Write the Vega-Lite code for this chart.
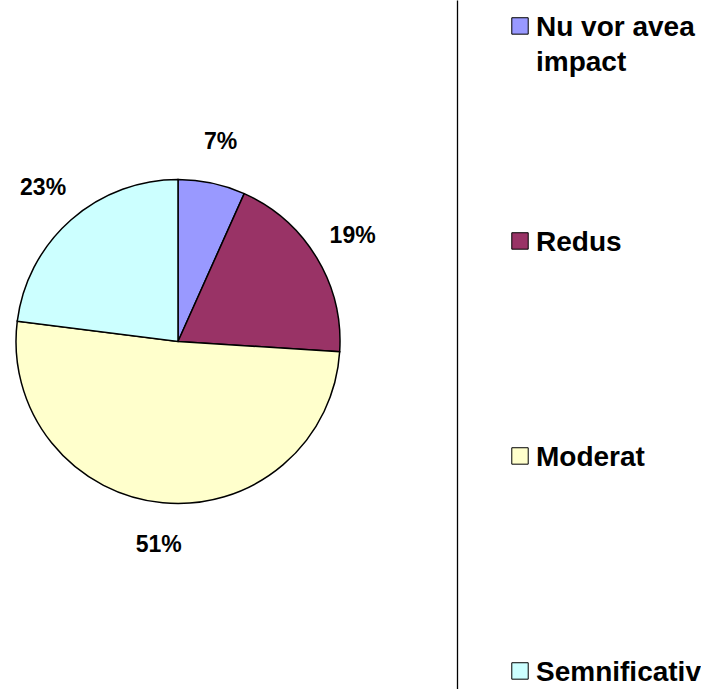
{
  "$schema": "https://vega.github.io/schema/vega-lite/v6.json",
  "padding": 0,
  "autosize": {"type": "pad"},
  "background": "white",
  "config": {"view": {"stroke": null}, "font": "Liberation Sans"},
  "data": {
    "values": [
      {"idx": 1, "category": "Nu vor avea\nimpact", "value": 6.7, "label": "7%"},
      {"idx": 2, "category": "Redus", "value": 19.3, "label": "19%"},
      {"idx": 3, "category": "Moderat", "value": 51, "label": "51%"},
      {"idx": 4, "category": "Semnificativ", "value": 23, "label": "23%"}
    ]
  },
  "spacing": 81,
  "hconcat": [
    {
      "width": 356,
      "height": 683,
      "encoding": {
        "theta": {"field": "value", "type": "quantitative", "stack": true},
        "order": {"field": "idx", "type": "quantitative"},
        "color": {
          "field": "category", "type": "nominal", "legend": null,
          "scale": {
            "domain": ["Nu vor avea\nimpact", "Redus", "Moderat", "Semnificativ"],
            "range": ["#9999FF", "#993366", "#FFFFCC", "#CCFFFF"]
          }
        }
      },
      "layer": [
        {"mark": {"type": "arc", "outerRadius": 162, "stroke": "black", "strokeWidth": 1.5}},
        {
          "mark": {"type": "text", "radius": 204, "fontSize": 23, "fontWeight": "bold", "fill": "black", "baseline": "middle", "align": "center"},
          "encoding": {"text": {"field": "label", "type": "nominal"}, "color": {"value": "black"}}
        }
      ]
    },
    {
      "width": 126,
      "height": 689,
      "encoding": {
        "y": {
          "field": "category", "type": "nominal", "sort": {"field": "idx"},
          "scale": {"type": "point", "padding": 0.1023, "align": 0.59},
          "axis": {"labels": false, "ticks": false, "grid": false, "title": null, "domain": true, "domainColor": "black", "domainWidth": 1.3}
        }
      },
      "layer": [
        {
          "mark": {"type": "square", "size": 270, "stroke": "black", "strokeWidth": 1, "opacity": 1},
          "encoding": {
            "color": {
              "field": "category", "type": "nominal", "legend": null,
              "scale": {
                "domain": ["Nu vor avea\nimpact", "Redus", "Moderat", "Semnificativ"],
                "range": ["#9999FF", "#993366", "#FFFFCC", "#CCFFFF"]
              }
            }
          }
        },
        {
          "mark": {"type": "text", "align": "left", "baseline": "alphabetic", "dx": 16, "dy": 10, "fontSize": 28, "fontWeight": "bold", "lineBreak": "\n", "lineHeight": 35, "fill": "black"},
          "encoding": {"text": {"field": "category", "type": "nominal"}}
        }
      ]
    }
  ]
}
